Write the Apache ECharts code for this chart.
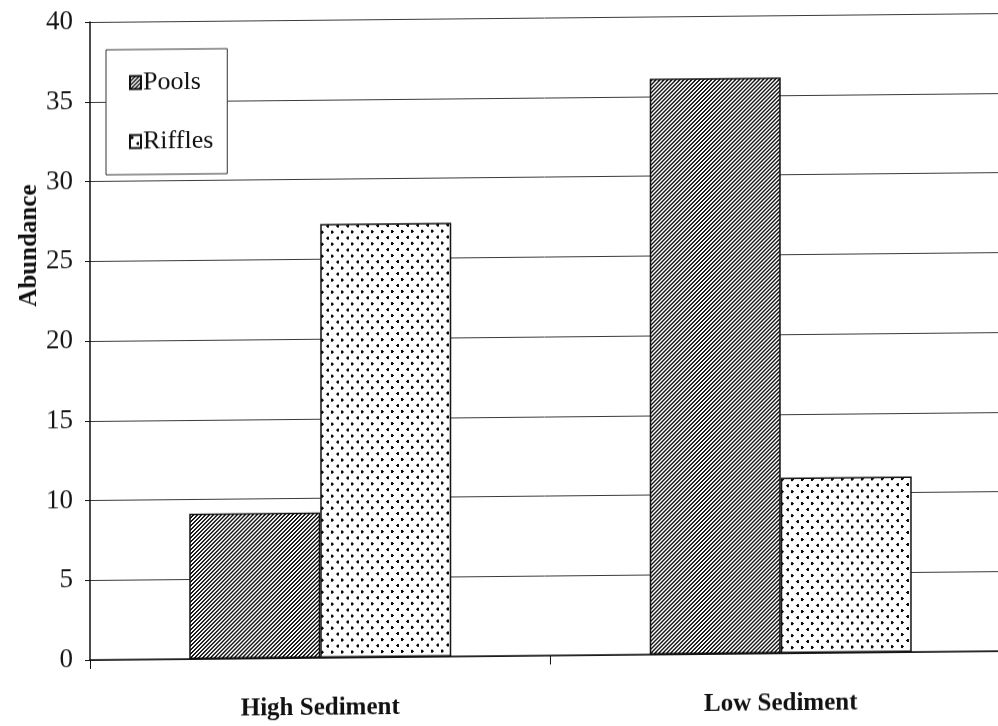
<!DOCTYPE html>
<html>
<head>
<meta charset="utf-8">
<script src="https://cdn.jsdelivr.net/npm/echarts@6/dist/echarts.min.js"></script>
<style>
  html, body { margin: 0; padding: 0; background: #fff; }
  #chart {
    width: 998px; height: 726px;
    /* the printed page sits with a slight tilt */
    transform: skewY(-0.56deg);
    transform-origin: 499px 363px;
  }
</style>
</head>
<body>
<div id="chart"></div>
<script>
// Categories and measured abundances
const categories = ['High Sediment', 'Low Sediment'];
const seriesNames = ['Pools', 'Riffles'];
const poolsValues = [9.1, 36.1];
const rifflesValues = [27.2, 11.0];
// Value axis range
const yMin = 0;
const yMax = 40;
const yStep = 5;

const SERIF = "'Liberation Serif', 'Times New Roman', serif";

// Diagonal hatch fill for pools
function hatchPattern() {
  const c = document.createElement('canvas');
  c.width = 4; c.height = 4;
  const g = c.getContext('2d');
  g.fillStyle = '#ffffff';
  g.fillRect(0, 0, 4, 4);
  g.fillStyle = '#151515';
  for (let y = 0; y < 4; y++) {
    for (let x = 0; x < 4; x++) {
      if ((x + y) % 4 < 2) g.fillRect(x, y, 1, 1);
    }
  }
  return c;
}

// Staggered dot fill for riffles
function dotPattern() {
  const c = document.createElement('canvas');
  c.width = 10; c.height = 12;
  const g = c.getContext('2d');
  g.fillStyle = '#ffffff';
  g.fillRect(0, 0, 10, 12);
  g.fillStyle = '#0a0a0a';
  // small right-pointing mark
  g.fillRect(1, 1, 2, 3);
  g.fillRect(3, 2, 1, 1);
  // small left-pointing mark
  g.fillRect(7, 7, 2, 3);
  g.fillRect(6, 8, 1, 1);
  return c;
}

const chart = echarts.init(document.getElementById('chart'), null, { renderer: 'canvas' });

chart.setOption({
  backgroundColor: '#ffffff',
  animation: false,
  grid: {
    left: 90, top: 18, width: 921, bottom: 70,
    containLabel: false,
    outerBoundsMode: 'none'
  },
  legend: {
    orient: 'vertical',
    left: 106,
    top: 46,
    data: seriesNames,
    backgroundColor: '#ffffff',
    borderColor: '#333333',
    borderWidth: 1,
    padding: [20, 14, 20, 23],
    itemGap: 33,
    itemWidth: 11,
    itemHeight: 13,
    icon: 'rect',
    textStyle: { fontFamily: SERIF, fontSize: 26, color: '#111111', padding: [0, 0, 0, -3] }
  },
  xAxis: {
    type: 'category',
    data: categories,
    axisLine: { show: true, lineStyle: { color: '#111111', width: 1.5 } },
    axisTick: { show: true, length: 9, lineStyle: { color: '#111111', width: 1 } },
    axisLabel: {
      margin: 38,
      fontFamily: SERIF,
      fontWeight: 'bold',
      fontSize: 25,
      color: '#111111'
    },
    splitLine: { show: false }
  },
  yAxis: {
    type: 'value',
    min: yMin,
    max: yMax,
    interval: yStep,
    axisLine: { show: true, lineStyle: { color: '#111111', width: 1.5 } },
    axisTick: { show: true, length: 5, lineStyle: { color: '#111111', width: 1 } },
    axisLabel: {
      margin: 17,
      fontFamily: SERIF,
      fontSize: 27,
      color: '#151515'
    },
    splitLine: { show: true, lineStyle: { color: '#3a3a3a', width: 1 } }
  },
  graphic: [{
    type: 'text',
    x: 30,
    y: 241,
    rotation: Math.PI / 2,
    style: {
      text: 'Abundance',
      fontFamily: SERIF,
      fontWeight: 'bold',
      fontSize: 25,
      fill: '#111111',
      textAlign: 'center',
      textVerticalAlign: 'middle'
    }
  }],
  series: [
    {
      name: seriesNames[0],
      type: 'bar',
      data: poolsValues,
      barWidth: 131,
      barGap: '0%',
      itemStyle: {
        color: { image: hatchPattern(), repeat: 'repeat' },
        borderColor: '#111111',
        borderWidth: 1.5
      }
    },
    {
      name: seriesNames[1],
      type: 'bar',
      data: rifflesValues,
      barWidth: 131,
      barGap: '0%',
      itemStyle: {
        color: { image: dotPattern(), repeat: 'repeat' },
        borderColor: '#111111',
        borderWidth: 1.5
      }
    }
  ]
});
</script>
</body>
</html>
